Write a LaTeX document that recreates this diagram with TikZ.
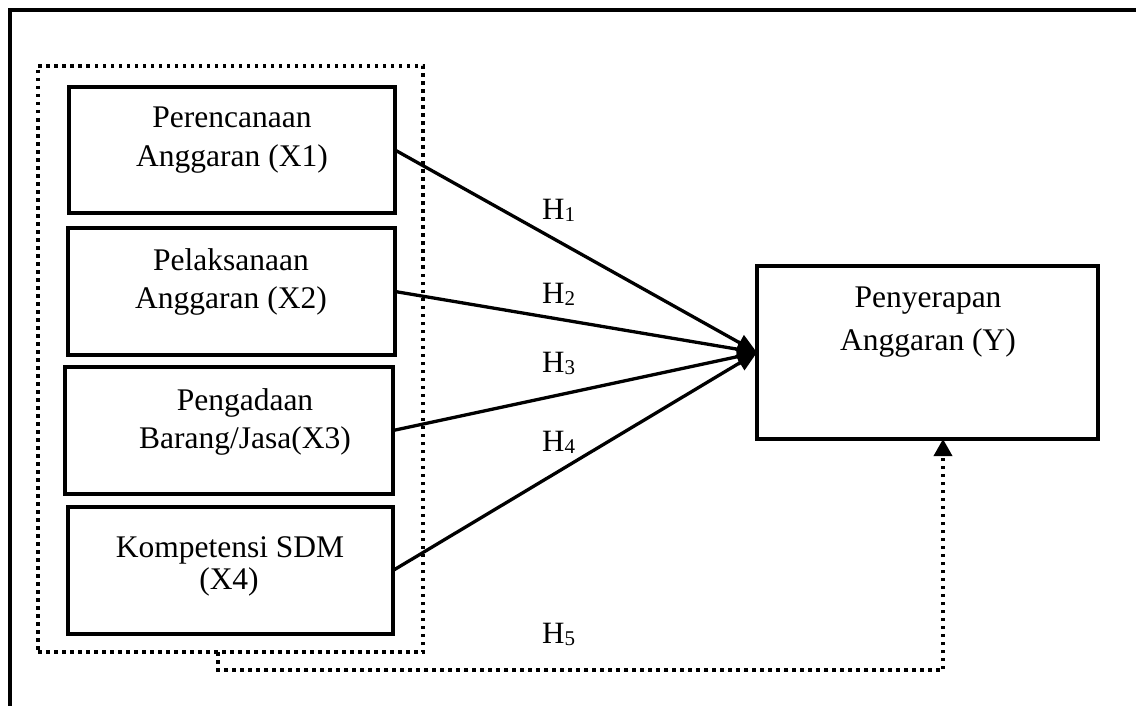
\documentclass[tikz,border=0pt]{standalone}
\usepackage{fontspec}
\setmainfont{Liberation Serif}
\usetikzlibrary{arrows.meta}
\newcommand{\hsub}[1]{H\raisebox{-2.5pt}{\fontsize{21}{21}\selectfont #1}}
\begin{document}
\begin{tikzpicture}[x=1pt,y=-1pt,
  varbox/.style={draw,line width=3.4pt,inner sep=0pt,outer sep=0pt},
  grpbox/.style={draw,line width=3.5pt,dash pattern=on 3.5pt off 4.5pt,inner sep=0pt,outer sep=0pt},
  txt/.style={font=\fontsize{31.5}{38}\selectfont,anchor=base,inner sep=0pt},
  hl/.style={font=\fontsize{31}{36}\selectfont,anchor=base west,inner sep=0pt},
  link/.style={line width=3.3pt,-{Triangle[length=20pt,width=17pt]}},
  dotlink/.style={line width=3.5pt,dash pattern=on 3.5pt off 4.5pt,-{Triangle[length=17pt,width=18pt]}},
  frameline/.style={line width=3.5pt}
]
\useasboundingbox (0,0) rectangle (1136,706);
% outer frame
\draw[frameline] (1140,10) -- (10,10) -- (10,710);

% group of independent variables
\node[grpbox,minimum width=385pt,minimum height=586pt] (grp) at (230.5,359) {};

% boxes
\node[varbox,minimum width=326pt,minimum height=126pt] (x1) at (232,150) {};
\node[varbox,minimum width=327pt,minimum height=127pt] (x2) at (231.5,291.5) {};
\node[varbox,minimum width=328pt,minimum height=127pt] (x3) at (229,430.5) {};
\node[varbox,minimum width=325pt,minimum height=127pt] (x4) at (230.5,570.5) {};
\node[varbox,minimum width=341pt,minimum height=173pt] (y) at (927.5,352.5) {};

% texts
\node[txt] (x1a) at (232,128) {Perencanaan};
\node[txt] (x1b) at (232,167) {Anggaran (X1)};
\node[txt] (x2a) at (231,270) {Pelaksanaan};
\node[txt] (x2b) at (231,308) {Anggaran (X2)};
\node[txt] (x3a) at (245,410) {Pengadaan};
\node[txt] (x3b) at (245,448) {Barang/Jasa(X3)};
\node[txt] (x4a) at (230,557) {Kompetensi SDM};
\node[txt] (x4b) at (229,589) {(X4)};
\node[txt] (ya) at (928,307) {Penyerapan};
\node[txt] (yb) at (928,350) {Anggaran (Y)};

% connectors
\draw[link] (x1.east) -- (y.west);
\draw[link] (x2.east) -- (y.west);
\draw[link] (x3.east) -- (y.west);
\draw[link] (x4.east) -- (y.west);

\coordinate (c1) at (218,670);
\coordinate (c2) at (943,670);
\draw[dotlink] (grp.south -| c1) -- (c1) -- (c2) -- (c2 |- y.south);

% hypothesis labels
\node[hl] (h1) at (542,219) {\hsub{1}};
\node[hl] (h2) at (542,303) {\hsub{2}};
\node[hl] (h3) at (542,372) {\hsub{3}};
\node[hl] (h4) at (542,451) {\hsub{4}};
\node[hl] (h5) at (542,643) {\hsub{5}};
\end{tikzpicture}
\end{document}
